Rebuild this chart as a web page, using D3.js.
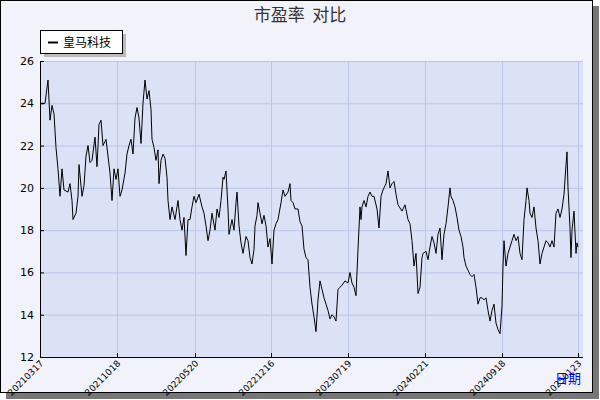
<!DOCTYPE html>
<html><head><meta charset="utf-8">
<script src="https://cdn.jsdelivr.net/npm/d3@7"></script>
<style>body{margin:0;background:#fff}</style></head>
<body><svg id="c" width="600" height="400"></svg>
<script>
const title = "市盈率  对比";
const seriesName = "皇马科技";
const tickDays = [0,154,310,462,616,770,924,1076];
const tickLabels = ["20210317","20211018","20220520","20221216","20230719","20240221","20240918","20250123"];
const yTicks = [12,14,16,18,20,22,24,26];
const days = [0,2,10,16,20,24,28,32,36,40,44,48,56,60,64,66,72,76,78,84,88,92,96,100,104,110,114,118,122,126,132,136,140,144,148,152,156,160,164,170,174,178,182,186,190,194,198,202,206,210,214,218,222,224,228,232,236,238,242,246,250,254,256,260,264,270,276,280,284,288,292,296,300,304,308,312,318,324,328,332,336,340,344,350,354,358,362,366,368,372,376,378,384,388,392,394,398,402,406,412,416,420,424,428,430,434,436,440,444,448,452,456,460,464,468,472,476,482,486,490,496,500,502,506,510,516,520,524,528,532,536,540,544,548,552,556,560,564,568,572,576,580,584,588,592,596,600,604,610,616,620,624,628,632,636,640,642,644,648,652,656,660,664,668,674,678,682,686,692,696,700,704,708,712,716,724,730,736,740,744,748,752,756,760,764,766,772,776,780,784,788,792,796,800,804,808,812,816,820,822,826,830,834,838,842,846,848,852,856,860,864,868,872,876,880,884,888,892,896,900,904,908,912,916,920,924,926,928,932,936,940,944,948,952,956,960,964,968,972,974,978,980,984,988,992,996,1000,1004,1008,1012,1016,1020,1024,1028,1032,1036,1040,1044,1048,1052,1054,1056,1060,1062,1064,1068,1072,1074,1076,1080];
const values = [24.0,24.0,24.0,25.1,23.2,23.9,23.5,21.9,20.9,19.6,20.9,19.9,19.8,20.2,19.4,18.5,18.8,19.6,21.1,19.6,20.1,21.5,22.0,21.2,21.3,22.4,21.0,23.0,23.2,22.0,22.3,21.5,20.7,19.4,20.9,20.4,20.9,19.6,19.9,20.7,21.6,22.0,22.3,21.6,23.3,23.8,23.3,22.1,24.0,25.1,24.2,24.6,23.7,22.3,21.9,21.3,21.8,20.2,21.3,21.6,21.4,20.5,19.4,18.5,19.1,18.5,19.4,18.5,18.0,18.6,16.8,18.5,18.5,19.1,19.6,19.3,19.7,19.1,18.8,18.2,17.5,18.0,18.8,18.0,19.0,18.6,19.4,20.5,20.4,20.8,19.0,17.8,18.5,18.0,19.3,19.8,18.2,17.4,16.9,17.7,17.5,16.7,16.4,17.1,18.2,18.7,19.3,18.8,18.3,18.7,18.2,17.2,17.6,16.4,18.0,18.3,18.5,19.3,19.9,19.6,19.8,20.2,19.4,19.3,19.0,19.0,18.4,18.2,17.1,16.7,16.6,15.3,14.5,13.9,13.2,14.7,15.6,15.2,14.8,14.5,14.2,13.8,14.0,13.9,13.7,15.2,15.3,15.4,15.6,15.5,16.0,15.5,15.3,14.9,17.1,19.1,18.5,19.1,19.4,19.1,19.6,19.8,19.6,19.6,19.0,18.1,19.6,19.9,20.2,20.8,20.0,20.2,20.3,19.7,19.2,18.9,19.2,18.5,18.3,17.5,16.3,16.9,15.0,15.3,16.7,16.9,17.0,16.6,17.2,17.7,17.4,16.9,17.8,18.1,16.6,17.8,18.3,19.1,20.0,19.6,19.4,19.1,18.6,18.0,17.7,17.2,16.7,16.3,16.1,15.9,15.8,15.9,15.3,14.5,14.8,14.8,14.7,14.8,14.2,13.7,14.2,14.5,13.6,13.3,13.1,14.4,16.3,17.5,16.3,16.9,17.2,17.5,17.8,17.5,17.7,16.9,16.6,18.5,19.4,20.0,19.4,18.8,18.6,19.1,18.1,17.5,16.4,16.9,17.2,17.5,17.4,17.2,17.5,17.2,18.8,19.0,18.6,19.0,19.7,21.1,21.7,20.0,18.1,16.7,18.0,18.9,16.9,17.4,17.2];

const svg = d3.select("#c");
svg.append("rect").attr("x",6).attr("y",6).attr("width",593).attr("height",393).attr("fill","#777");
svg.append("rect").attr("x",0.5).attr("y",0.5).attr("width",592).attr("height",392).attr("fill","#f2f2fa").attr("stroke","#000");

const L=40,R=583,T=61,B=357;
const x = d3.scaleLinear().domain([0,1086]).range([L,R]);
const y = d3.scaleLinear().domain([12,26]).range([B,T]);
svg.append("rect").attr("x",L).attr("y",T).attr("width",R-L).attr("height",B-T).attr("fill","#dce2f6");
const g = svg.append("g");
g.selectAll(".hg").data(yTicks).join("line").attr("x1",L).attr("x2",R).attr("y1",d=>y(d)+0.5).attr("y2",d=>y(d)+0.5).attr("stroke","#b9c5ea");
g.selectAll(".vg").data(tickDays).join("line").attr("y1",T).attr("y2",B).attr("x1",d=>Math.round(x(d))+0.5).attr("x2",d=>Math.round(x(d))+0.5).attr("stroke","#b9c5ea");

const line = d3.line().x((d,i)=>x(days[i])).y(d=>y(d));
svg.append("path").attr("d",line(values)).attr("fill","none").attr("stroke","#000").attr("stroke-width",1);

svg.append("line").attr("x1",L+0.5).attr("x2",L+0.5).attr("y1",T).attr("y2",B).attr("stroke","#000");
svg.append("line").attr("x1",L).attr("x2",R).attr("y1",B+0.5).attr("y2",B+0.5).attr("stroke","#000");
svg.selectAll(".yt").data(yTicks).join("line").attr("x1",L).attr("x2",L+4).attr("y1",d=>y(d)+0.5).attr("y2",d=>y(d)+0.5).attr("stroke","#000");
svg.selectAll(".ytl").data(yTicks).join("text").attr("x",L-6).attr("y",d=>y(d)+4).attr("text-anchor","end")
  .attr("font-family","DejaVu Sans").attr("font-size",11).text(d=>d);
svg.selectAll(".xt").data(tickDays).join("line").attr("x1",d=>Math.round(x(d))+0.5).attr("x2",d=>Math.round(x(d))+0.5).attr("y1",B).attr("y2",B-4).attr("stroke","#000");
svg.selectAll(".xtl").data(tickDays).join("text")
  .attr("transform",(d,i)=>`translate(${x(d)+4},${B+7}) rotate(-45)`).attr("text-anchor","end")
  .attr("font-family","DejaVu Sans").attr("font-size",9).text((d,i)=>tickLabels[i]);
svg.append("text").attr("x",581).attr("y",383).attr("text-anchor","end").attr("fill","#0000ff")
  .attr("font-family","Noto Sans CJK SC").attr("font-size",13).text("日期");

svg.append("text").attr("x",300).attr("y",21).attr("text-anchor","middle").attr("fill","#333")
  .attr("font-family","Noto Sans CJK SC").attr("font-size",17).attr("xml:space","preserve").text(title);

svg.append("rect").attr("x",44).attr("y",34).attr("width",82).attr("height",23).attr("fill","#bbb");
svg.append("rect").attr("x",40.5).attr("y",30.5).attr("width",82).attr("height",23).attr("fill","#fff").attr("stroke","#000");
svg.append("line").attr("x1",48).attr("x2",58).attr("y1",42.5).attr("y2",42.5).attr("stroke","#000").attr("stroke-width",2);
svg.append("text").attr("x",63).attr("y",47).attr("font-family","Noto Sans CJK SC").attr("font-size",12).text(seriesName);
</script></body></html>
